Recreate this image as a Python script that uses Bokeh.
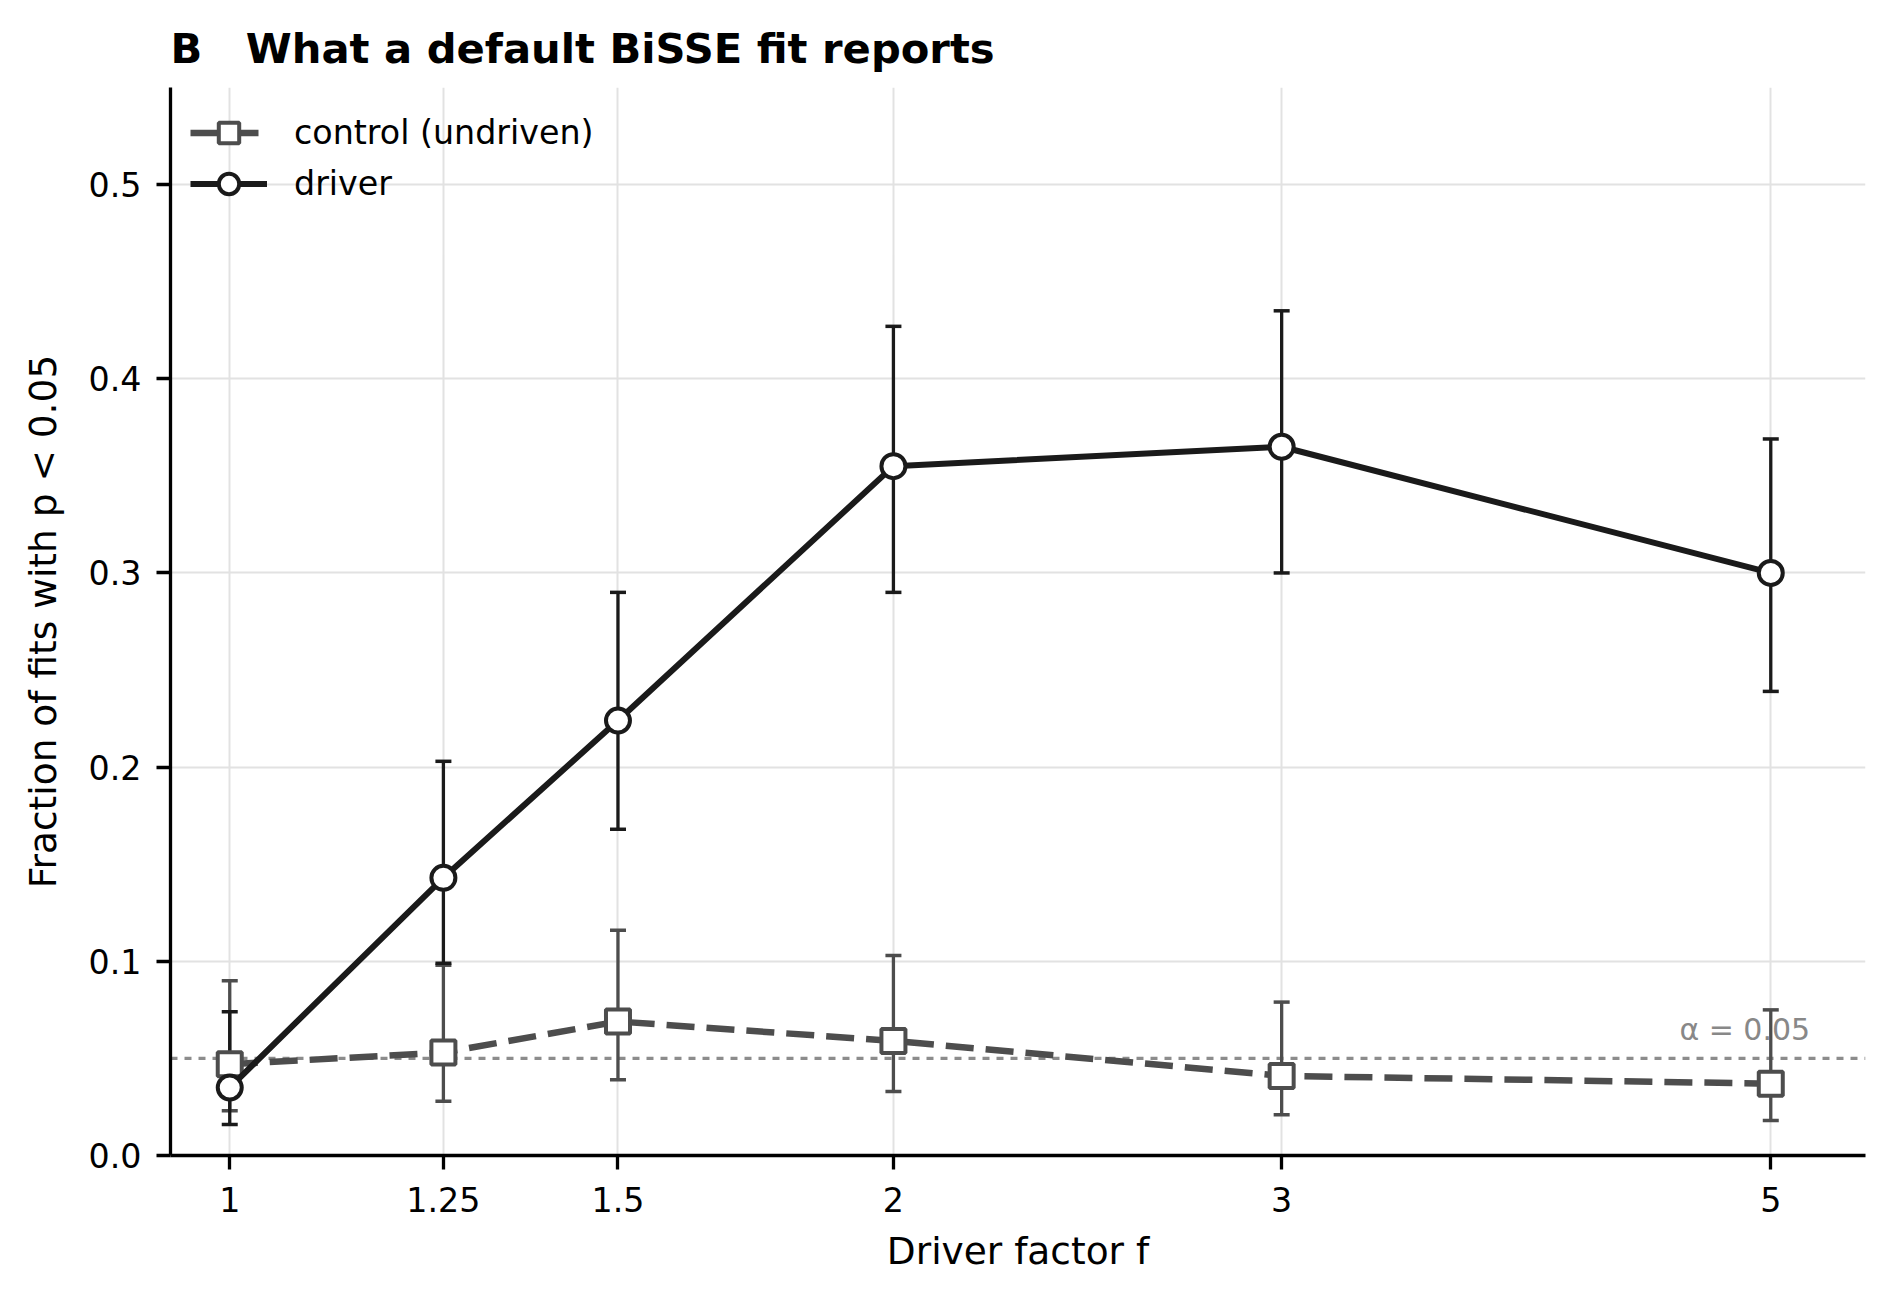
from bokeh.embed import file_html
from bokeh.models import (
    ColumnDataSource,
    FixedTicker,
    Label,
    Range1d,
    Span,
    TeeHead,
    Whisker,
)
from bokeh.plotting import figure
from bokeh.resources import INLINE

# ── Data ──────────────────────────────────────────────────────────────────────
factors = [1, 1.25, 1.5, 2, 3, 5]
factor_labels = ["1", "1.25", "1.5", "2", "3", "5"]

control_frac = [0.047, 0.053, 0.069, 0.059, 0.041, 0.037]
control_lo = [0.023, 0.028, 0.039, 0.033, 0.021, 0.018]
control_hi = [0.090, 0.098, 0.116, 0.103, 0.079, 0.075]

driver_frac = [0.035, 0.143, 0.224, 0.355, 0.365, 0.300]
driver_lo = [0.016, 0.099, 0.168, 0.290, 0.300, 0.239]
driver_hi = [0.074, 0.203, 0.290, 0.427, 0.435, 0.369]

y_ticks = [0.0, 0.1, 0.2, 0.3, 0.4, 0.5]
y_tick_labels = ["0.0", "0.1", "0.2", "0.3", "0.4", "0.5"]

alpha_level = 0.05

FONT = "DejaVu Sans"
CONTROL_COLOR = "#4d4d4d"
DRIVER_COLOR = "#1a1a1a"

control_src = ColumnDataSource(dict(x=factors, y=control_frac, lo=control_lo, hi=control_hi))
driver_src = ColumnDataSource(dict(x=factors, y=driver_frac, lo=driver_lo, hi=driver_hi))

p = figure(
    width=1876, height=1284,
    x_axis_type="log",
    x_range=Range1d(0.94, 5.52),
    y_range=Range1d(0, 0.55),
    output_backend="svg",
    toolbar_location=None,
    min_border_left=170, min_border_right=11,
    min_border_top=87, min_border_bottom=129,
)
p.outline_line_color = None
p.background_fill_color = "white"
p.border_fill_color = "white"

# ── Title ─────────────────────────────────────────────────────────────────────
p.title.text = "B\u00a0\u00a0\u00a0What a default BiSSE fit reports"
p.title.text_font = FONT
p.title.text_font_size = "41.7px"
p.title.text_font_style = "bold"
p.title.text_color = "black"
p.title.align = "left"
p.title.standoff = 30

# ── Axes ──────────────────────────────────────────────────────────────────────
p.xaxis.ticker = FixedTicker(ticks=factors, minor_ticks=[])
p.xaxis.major_label_overrides = dict(zip(factors, factor_labels))
p.yaxis.ticker = FixedTicker(ticks=y_ticks, minor_ticks=[])
p.yaxis.major_label_overrides = dict(zip(y_ticks, y_tick_labels))

p.xaxis.axis_label = "Driver factor f"
p.yaxis.axis_label = "Fraction of fits with p < 0.05"
for ax in (p.xaxis[0], p.yaxis[0]):
    ax.axis_line_width = 3.3
    ax.axis_line_color = "black"
    ax.major_tick_line_width = 3.3
    ax.major_tick_line_color = "black"
    ax.major_tick_out = 14
    ax.major_tick_in = 0
    ax.minor_tick_line_color = None
    ax.major_label_text_font = FONT
    ax.major_label_text_font_size = "33.3px"
    ax.major_label_text_color = "black"
    ax.axis_label_text_font = FONT
    ax.axis_label_text_font_size = "37.5px"
    ax.axis_label_text_font_style = "normal"
    ax.axis_label_text_color = "black"
p.xaxis.major_label_standoff = 17
p.xaxis.axis_label_standoff = 14
p.yaxis.major_label_standoff = 15
p.yaxis.axis_label_standoff = 21

p.grid.grid_line_color = "#e2e2e2"
p.grid.grid_line_width = 2

# ── alpha = 0.05 reference ────────────────────────────────────────────────────
p.add_layout(Span(
    location=alpha_level, dimension="width",
    line_color="#8c8c8c", line_width=3.3, line_dash="7 7",
    level="underlay",
))
p.add_layout(Label(
    x=5.21, y=0.0558, text="\u03b1 = 0.05",
    text_font=FONT, text_font_size="30px", text_color="#888888",
    text_align="right", text_baseline="bottom",
))

# ── Error bars ────────────────────────────────────────────────────────────────
for src, color in ((control_src, CONTROL_COLOR), (driver_src, DRIVER_COLOR)):
    p.add_layout(Whisker(
        base="x", upper="hi", lower="lo", source=src, dimension="height",
        line_color=color, line_width=3.3, level="underlay",
        upper_head=TeeHead(size=16, line_color=color, line_width=3.5),
        lower_head=TeeHead(size=16, line_color=color, line_width=3.5),
    ))

# ── Series ────────────────────────────────────────────────────────────────────
p.line(
    x="x", y="y", source=control_src,
    line_color=CONTROL_COLOR, line_width=6.5, line_dash="28 12",
    legend_label="control (undriven)",
)
p.scatter(
    x="x", y="y", source=control_src,
    marker="square", size=24, fill_color="white",
    line_color=CONTROL_COLOR, line_width=4,
    legend_label="control (undriven)",
)
p.line(
    x="x", y="y", source=driver_src,
    line_color=DRIVER_COLOR, line_width=6,
    legend_label="driver",
)
p.scatter(
    x="x", y="y", source=driver_src,
    marker="circle", size=24, fill_color="white",
    line_color=DRIVER_COLOR, line_width=4,
    legend_label="driver",
)

# ── Legend ────────────────────────────────────────────────────────────────────
legend = p.legend[0]
legend.location = "top_left"
legend.border_line_color = None
legend.background_fill_alpha = 0
legend.margin = 20
legend.padding = 0
legend.glyph_width = 77
legend.glyph_height = 51
legend.label_height = 51
legend.spacing = 0
legend.label_standoff = 27
legend.label_text_font = FONT
legend.label_text_font_size = "33.3px"
legend.label_text_color = "black"

open("out.html", "w").write(file_html(p, INLINE))
